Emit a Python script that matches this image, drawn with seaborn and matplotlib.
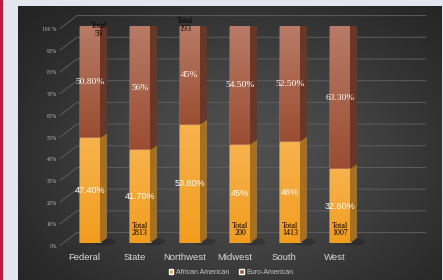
import numpy as np
import pandas as pd
import matplotlib
matplotlib.use("Agg")
import matplotlib.pyplot as plt
import seaborn as sns
from matplotlib.patches import Polygon, Rectangle, Ellipse
from matplotlib.colors import LinearSegmentedColormap
import matplotlib.transforms as mtransforms

# ---------------- data ----------------
categories = ["Federal", "State", "Northwest", "Midwest", "South", "West"]
african = [47.4, 41.7, 53.8, 45.0, 46.0, 32.6]
euro = [50.8, 56.0, 45.0, 54.5, 52.5, 63.3]
african_labels = ["47.40%", "41.70%", "53.80%", "45%", "46%", "32.60%"]
euro_labels = ["50.80%", "56%", "45%", "54.50%", "52.50%", "63.30%"]
totals = [59, 2813, 193, 200, 1413, 1007]
tick_values = [0, 10, 20, 30, 40, 50, 60, 70, 80, 90, 100]
tick_labels = ["0%", "10%", "20%", "30%", "40%", "50%", "60%", "70%", "80%", "90%", "100 %"]
legend_labels = ["African American", "Euro-American"]

# styling: totals placed at the top of these bars (x offset, y offset above top)
total_on_top = {"Federal": (0.18, 1.8), "Northwest": (-0.1, 4.1)}
ORANGE = "#f4a32c"
BROWN = "#a5583d"
ORANGE_SIDE = "#a8701c"
BROWN_SIDE = "#6a3727"
BROWN_TOP = "#8f5039"

sns.set_theme(style="white")
plt.rcParams["font.family"] = ["Liberation Sans", "DejaVu Sans"]

df = pd.DataFrame({"category": categories, "african": african, "euro": euro})
df["af_share"] = df["african"] / (df["african"] + df["euro"]) * 100
df["eu_share"] = df["euro"] / (df["african"] + df["euro"]) * 100
df["stack"] = df["af_share"] + df["eu_share"]

W, H = 443, 280
fig = plt.figure(figsize=(W / 100, H / 100), dpi=100)
fig.patch.set_facecolor("#e3e6ee")

# dark gradient panel
bg = fig.add_axes([18 / W, 0, 424 / W, 274 / H])
bg.axis("off")
ph, pw = 274, 424
yy, xx = np.mgrid[0:ph, 0:pw]
cx, cy = 225, 150
r = np.exp(-(((xx - cx) / 230.0) ** 2 + ((yy - cy) / 170.0) ** 2))
val = 26 + (78 - 26) * r
img = np.dstack([val, val, val]) / 255.0
bg.imshow(img, aspect="auto", extent=[0, 1, 0, 1], origin="upper")
bg.set_xlim(0, 1)
bg.set_ylim(0, 1)
fig.add_artist(Rectangle((0, 0), 1.5 / W, 1, transform=fig.transFigure,
                         color="#c21a3c", zorder=5))

# main axes
ax = fig.add_axes([65 / W, 37 / H, 300 / W, 217 / H])
ax.set_facecolor("none")

sns.barplot(data=df, x="category", y="stack", color=BROWN, width=0.4,
            saturation=1, errorbar=None, ax=ax, zorder=3)
sns.barplot(data=df, x="category", y="af_share", color=ORANGE, width=0.4,
            saturation=1, errorbar=None, ax=ax, zorder=4)

patches = list(ax.patches)
brown_bars = patches[:6]
orange_bars = patches[6:12]

dx, dy = 0.14, 2.3

cmap_orange = LinearSegmentedColormap.from_list("o", ["#f29d1e", "#f7b24e"])
cmap_brown = LinearSegmentedColormap.from_list("b", ["#9b4d31", "#b87b67"])

for bb, ob in zip(brown_bars, orange_bars):
    x0 = bb.get_x()
    x1 = x0 + bb.get_width()
    top = bb.get_height()
    a = ob.get_height()
    grad = np.linspace(0, 1, 64).reshape(-1, 1)
    im = ax.imshow(grad, cmap=cmap_brown, extent=(x0, x1, a, top), origin="lower",
                   aspect="auto", zorder=3.1)
    im.set_clip_path(bb)
    im2 = ax.imshow(grad, cmap=cmap_orange, extent=(x0, x1, 0, a), origin="lower",
                    aspect="auto", zorder=4.1)
    im2.set_clip_path(ob)
    ax.add_patch(Polygon([(x1, 0), (x1 + dx, dy), (x1 + dx, a + dy), (x1, a)],
                         closed=True, facecolor=ORANGE_SIDE, edgecolor="none", zorder=4.2))
    ax.add_patch(Polygon([(x1, a), (x1 + dx, a + dy), (x1 + dx, top + dy), (x1, top)],
                         closed=True, facecolor=BROWN_SIDE, edgecolor="none", zorder=3.2))
    ax.add_patch(Polygon([(x0, top), (x1, top), (x1 + dx, top + dy), (x0 + dx, top + dy)],
                         closed=True, facecolor=BROWN_TOP, edgecolor="none", zorder=3.2))
    ax.add_patch(Ellipse((x1 + 0.08, 0.6), 0.45, 3.5, facecolor="black", alpha=0.2,
                         edgecolor="none", zorder=2, clip_on=False))

# gridlines on back wall with perspective connectors
for v in tick_values:
    ax.plot([-0.6, -0.26, 6.72], [v - 1.2, v + 4.8, v + 4.8], color="#5d5d5d",
            lw=0.7, clip_on=False, zorder=1)

ax.set_xlim(-0.5, 5.5)
ax.set_ylim(0, 100)
ax.set_yticks(tick_values)
ax.set_yticklabels(tick_labels, fontsize=4, color="#b5b5b5",
                   family=["Liberation Serif", "DejaVu Serif"])
ax.tick_params(axis="y", length=0, pad=6)
ax.tick_params(axis="x", length=0, pad=7, labelsize=6.8, labelcolor="#d8d8d8")
ax.set_xlabel("")
ax.set_ylabel("")
for s in ax.spines.values():
    s.set_visible(False)

offy = mtransforms.ScaledTranslation(0, -3 / 100, fig.dpi_scale_trans)
for lab in ax.get_yticklabels():
    lab.set_transform(lab.get_transform() + offy)
offx = mtransforms.ScaledTranslation(-5.5 / 100, 0, fig.dpi_scale_trans)
for lab in ax.get_xticklabels():
    lab.set_transform(lab.get_transform() + offx)

# value labels
for i, (ob, bb) in enumerate(zip(orange_bars, brown_bars)):
    xc = ob.get_x() + ob.get_width() / 2
    a = ob.get_height()
    top = bb.get_height()
    ax.text(xc, a / 2, african_labels[i], ha="center", va="center", color="white",
            fontsize=6.5, zorder=6, family=["Liberation Sans", "DejaVu Sans"])
    ax.text(xc, a + (top - a) / 2, euro_labels[i], ha="center", va="center",
            color="white", fontsize=6.8, zorder=6,
            family=["Liberation Serif", "DejaVu Serif"])
    txt = f"Total\n{totals[i]}"
    if categories[i] in total_on_top:
        ox, oy = total_on_top[categories[i]]
        ax.text(xc + ox, top + oy, txt, ha="center", va="top", color="black",
                fontsize=5.8, linespacing=0.95, zorder=6, clip_on=False,
                family=["Liberation Serif", "DejaVu Serif"])
    else:
        ax.text(xc, 2.6, txt, ha="center", va="bottom", color="black", fontsize=5.8,
                linespacing=0.95, zorder=6, family=["Liberation Serif", "DejaVu Serif"])

# legend
handles = [Rectangle((0, 0), 1, 1, facecolor=ORANGE), Rectangle((0, 0), 1, 1, facecolor=BROWN)]
leg = fig.legend(handles, legend_labels, loc="center", bbox_to_anchor=(231 / W, 7.5 / H),
                 ncol=2, frameon=False, fontsize=5, handlelength=0.7, handleheight=0.7,
                 handletextpad=0.3, columnspacing=1.5)
for t in leg.get_texts():
    t.set_color("#c8c8c8")

fig.savefig("out.png", dpi=100, facecolor=fig.get_facecolor())
